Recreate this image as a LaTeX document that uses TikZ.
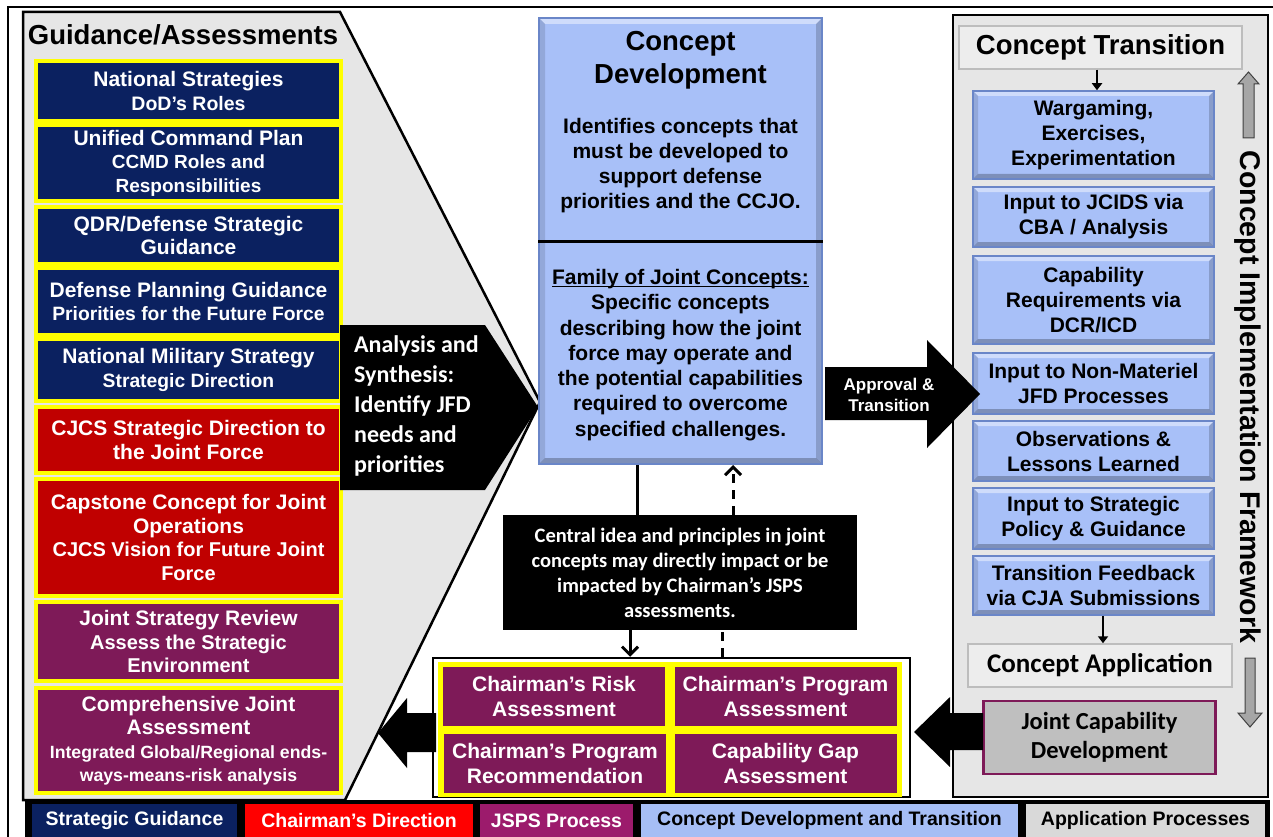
\documentclass[tikz,border=0pt]{standalone}
\usepackage{fontspec}
\setmainfont{Liberation Sans}
\newfontfamily\calib{Carlito}
\usetikzlibrary{arrows.meta}
\definecolor{navy}{HTML}{0B2160}
\definecolor{dred}{HTML}{C00000}
\definecolor{purp}{HTML}{7E1A58}
\definecolor{ylw}{HTML}{FFFF00}
\definecolor{panel}{HTML}{E6E6E6}
\definecolor{cdblue}{HTML}{A8C0F8}
\definecolor{cdedge}{HTML}{6A86C8}
\definecolor{ctgray}{HTML}{EDEDED}
\definecolor{ctedge}{HTML}{BDBDBD}
\definecolor{jcdgray}{HTML}{BFBFBF}
\definecolor{lgred}{HTML}{FF0000}
\definecolor{lgpurp}{HTML}{9C1B6C}
\definecolor{lgblue}{HTML}{A6BEF5}
\definecolor{lggray}{HTML}{D9D9D9}
\definecolor{arrgray}{HTML}{A6A6A6}
\newcommand\fz[2]{\fontsize{#1}{#2}\selectfont}
\newcommand\myul[1]{\setbox0\hbox{#1}\rlap{\rule[-3pt]{\wd0}{1.4pt}}\box0}
\tikzset{
 bevel/.style={path picture={
   \fill[white,opacity=.45] (path picture bounding box.north west) -- (path picture bounding box.north east) -- ([shift={(-#1,-#1)}]path picture bounding box.north east) -- ([shift={(#1,-#1)}]path picture bounding box.north west) -- cycle;
   \fill[black,opacity=.25] (path picture bounding box.south west) -- (path picture bounding box.south east) -- ([shift={(-#1,#1)}]path picture bounding box.south east) -- ([shift={(#1,#1)}]path picture bounding box.south west) -- cycle;
   \fill[black,opacity=.12] (path picture bounding box.north west) -- ([shift={(#1,-#1)}]path picture bounding box.north west) -- ([shift={(#1,#1)}]path picture bounding box.south west) -- (path picture bounding box.south west) -- cycle;
   \fill[black,opacity=.18] (path picture bounding box.north east) -- ([shift={(-#1,-#1)}]path picture bounding box.north east) -- ([shift={(-#1,#1)}]path picture bounding box.south east) -- (path picture bounding box.south east) -- cycle;
 }},
 lbox/.style={draw=ylw, line width=4pt, minimum width=305pt, inner sep=0pt, text=white, align=center, font=\bfseries\fz{21}{23.5}},
 bbox/.style={bevel=5pt, fill=cdblue, draw=cdedge, line width=1.5pt, minimum width=241pt, inner sep=0pt, align=center, font=\bfseries\fz{21}{25}},
 jbox/.style={fill=purp, minimum width=222pt, minimum height=59pt, inner sep=0pt, text=white, align=center, font=\bfseries\fz{21}{25}},
 lgbox/.style={minimum height=33pt, inner sep=0pt, font=\bfseries\fz{19.5}{20}},
 grybox/.style={fill=ctgray, draw=ctedge, line width=1.5pt, inner sep=0pt},
 conn/.style={line width=3pt},
 barb/.style={-{Straight Barb[length=8pt,width=16pt]}},
 grayarr/.style={fill=arrgray, draw=black!75, line width=1pt},
}
\begin{document}
\begin{tikzpicture}[x=1pt,y=-1pt]
\useasboundingbox (0,0) rectangle (1273,837);
\fill[white] (0,0) rectangle (1273,837);
% outer frame
\draw[line width=1.5pt] (8,837) -- (8,7) -- (1273,7);

% left panel
\draw[fill=panel, line width=2.5pt, line join=miter] (23,12) -- (340,12) -- (540,402) -- (345,800) -- (23,800) -- cycle;
\node[font=\bfseries\fz{27.5}{30}] (ga) at (183,35) {Guidance/Assessments};

\node[lbox, fill=navy, minimum height=60pt] (ns) at (188.5,91) {National Strategies\\{\fz{19.5}{23.5}DoD’s Roles}};
\node[lbox, fill=navy, minimum height=76pt] (ucp) at (188.5,163) {Unified Command Plan\\{\fz{19}{23}CCMD Roles and}\\{\fz{19}{23}Responsibilities}};
\node[lbox, fill=navy, minimum height=57pt] (qdr) at (188.5,235.5) {QDR/Defense Strategic\\Guidance};
\node[lbox, fill=navy, minimum height=67pt] (dpg) at (188.5,301.5) {Defense Planning Guidance\\{\fz{19.3}{23.5}Priorities for the Future Force}};
\node[lbox, fill=navy, minimum height=62pt] (nms) at (188.5,370) {National Military Strategy\\{\fz{19.3}{23.5}Strategic Direction}};
\node[lbox, fill=dred, minimum height=66pt] (cjcs) at (188.5,440) {CJCS Strategic Direction to\\the Joint Force};
\node[lbox, fill=dred, minimum height=117pt] (ccjo) at (188.5,537.5) {Capstone Concept for Joint\\Operations\\{\fz{20}{23.5}CJCS Vision for Future Joint}\\{\fz{20}{23.5}Force}};
\node[lbox, fill=purp, minimum height=79pt] (jsr) at (188.5,641.5) {Joint Strategy Review\\{\fz{20}{23}Assess the Strategic}\\{\fz{20}{23}Environment}};
\node[lbox, fill=purp, minimum height=105pt] (cja) at (188.5,740.5) {Comprehensive Joint\\Assessment\\{\fz{17.7}{22}Integrated Global/Regional ends-}\\{\fz{17.7}{22}ways-means-risk analysis}};

% analysis arrow
\fill[black] (340,325) -- (485,325) -- (538,407) -- (485,490) -- (340,490) -- cycle;
\node[anchor=west, align=left, text=white, font=\calib\bfseries\fz{24}{30}, inner sep=0pt] (ana) at (354,406) {Analysis and\\Synthesis:\\Identify JFD\\needs and\\priorities};

% concept development
\node[bevel=6pt, fill=cdblue, draw=cdedge, line width=2pt, minimum width=283pt, minimum height=446pt, inner sep=0pt] (cd) at (680.5,241) {};
\coordinate (div) at (0,241);
\draw[line width=3pt] (cd.west |- div) -- (cd.east |- div);
\node[font=\bfseries\fz{27.5}{33}, align=center] (cdt) at (680.5,60) {Concept\\Development};
\node[font=\bfseries\fz{21}{25}, align=center] (cdx) at (680.5,166) {Identifies concepts that\\must be developed to\\support defense\\priorities and the CCJO.};
\node[font=\bfseries\fz{21}{25.3}, align=center] (fam) at (680.5,355) {\myul{Family of Joint Concepts:}\\Specific concepts\\describing how the joint\\force may operate and\\the potential capabilities\\required to overcome\\specified challenges.};

% central idea box
\node[fill=black, minimum width=354pt, minimum height=115pt, inner sep=0pt, text=white, align=center, font=\calib\bfseries\fz{20.5}{25}] (central) at (680,572.5) {Central idea and principles in joint\\concepts may directly impact or be\\impacted by Chairman’s JSPS\\assessments.};

% JSPS group
\node[draw=black, fill=white, line width=2.5pt, minimum width=477pt, minimum height=139pt, inner sep=0pt] (jsps) at (671.5,727.5) {};
\fill[ylw] (438,662) rectangle (902,797);
\node[jbox] (cra) at (554,696) {Chairman’s Risk\\Assessment};
\node[jbox] (cpa) at (785.5,696) {Chairman’s Program\\Assessment};
\node[jbox] (cpr) at (555,763.5) {Chairman’s Program\\Recommendation};
\node[jbox] (cga) at (785.5,763.5) {Capability Gap\\Assessment};

% vertical connectors
\coordinate (xa) at (637,0);
\coordinate (xb) at (630,0);
\coordinate (xc) at (722,0);
\coordinate (xd) at (733,0);
\draw[conn] (cd.south -| xa) -- (central.north -| xa);
\draw[conn, barb] (central.south -| xb) -- (jsps.north -| xb);
\draw[conn, dash pattern=on 9pt off 7pt] (jsps.north -| xc) -- (central.south -| xc);
\draw[conn, dash pattern=on 9pt off 7pt, barb] (central.north -| xd) -- (cd.south -| xd);

% right panel
\draw[fill=panel, line width=2.5pt] (953,15) rectangle (1268,797);
\node[grybox, minimum width=283pt, minimum height=43pt, font=\bfseries\fz{27.5}{30}] (ct) at (1100.5,47.5) {Concept Transition};
\node[bbox, minimum height=88pt] (wg) at (1093.5,135) {Wargaming,\\Exercises,\\Experimentation};
\node[bbox, minimum height=60pt] (jcids) at (1093.5,217) {Input to JCIDS via\\CBA / Analysis};
\node[bbox, minimum height=88pt] (capreq) at (1093.5,300) {Capability\\Requirements via\\DCR/ICD};
\node[bbox, minimum height=61pt] (nonmat) at (1093.5,383.5) {Input to Non-Materiel\\JFD Processes};
\node[bbox, minimum height=60pt] (obs) at (1093.5,451) {Observations \&\\Lessons Learned};
\node[bbox, minimum height=61pt] (strat) at (1093.5,518.5) {Input to Strategic\\Policy \& Guidance};
\node[bbox, minimum height=59pt] (feed) at (1093.5,585.5) {Transition Feedback\\via CJA Submissions};
\node[grybox, minimum width=264pt, minimum height=43pt, font=\calib\bfseries\fz{27}{30}] (ca) at (1100,665.5) {Concept Application};
\node[fill=jcdgray, draw=purp, line width=2.5pt, minimum width=232pt, minimum height=73pt, inner sep=0pt, align=center, font=\calib\bfseries\fz{24.5}{29}] (jcd) at (1099.5,737.5) {Joint Capability\\Development};
\coordinate (xe) at (1097,0);
\coordinate (xf) at (1103,0);
\draw[line width=2.5pt, -{Triangle[length=7pt,width=10pt]}] (ct.south -| xe) -- (wg.north -| xe);
\draw[line width=2.5pt, -{Triangle[length=7pt,width=10pt]}] (feed.south -| xf) -- (ca.north -| xf);
\node[rotate=-90, font=\bfseries\fz{28.5}{30}, inner sep=0pt] (cif) at (1248,397) {Concept Implementation Framework};
\draw[grayarr] (1243,138) -- (1243,84) -- (1238,84) -- (1248.5,72) -- (1259,84) -- (1254,84) -- (1254,138) -- cycle;
\draw[grayarr] (1245,658) -- (1245,713) -- (1238,713) -- (1250,727) -- (1262,713) -- (1255,713) -- (1255,658) -- cycle;

% approval arrow
\fill[black] (825,367) -- (927,367) -- (927,340) -- (980,394) -- (927,448) -- (927,420) -- (825,420) -- cycle;
\node[align=center, text=white, font=\bfseries\fz{17}{20.5}, inner sep=0pt] (appr) at (889,395) {Approval \&\\Transition};

% block arrows at bottom
\fill[black] (436,713) -- (407,713) -- (407,698) -- (378,733) -- (407,768) -- (407,752) -- (436,752) -- cycle;
\fill[black] (983,713) -- (950,713) -- (950,697) -- (914,732) -- (950,767) -- (950,750) -- (983,750) -- cycle;

% legend
\fill[black] (25,800) rectangle (1270,837);
\node[lgbox, fill=navy, text=white, minimum width=205pt] (lg1) at (134.5,820.5) {Strategic Guidance};
\node[lgbox, fill=lgred, text=white, minimum width=228pt] (lg2) at (359,820.5) {Chairman’s Direction};
\node[lgbox, fill=lgpurp, text=white, minimum width=153pt] (lg3) at (556.5,820.5) {JSPS Process};
\node[lgbox, fill=lgblue, text=black, minimum width=377pt] (lg4) at (829.5,820.5) {Concept Development and Transition};
\node[lgbox, fill=lggray, text=black, minimum width=239pt] (lg5) at (1145.5,820.5) {Application Processes};
\end{tikzpicture}
\end{document}
